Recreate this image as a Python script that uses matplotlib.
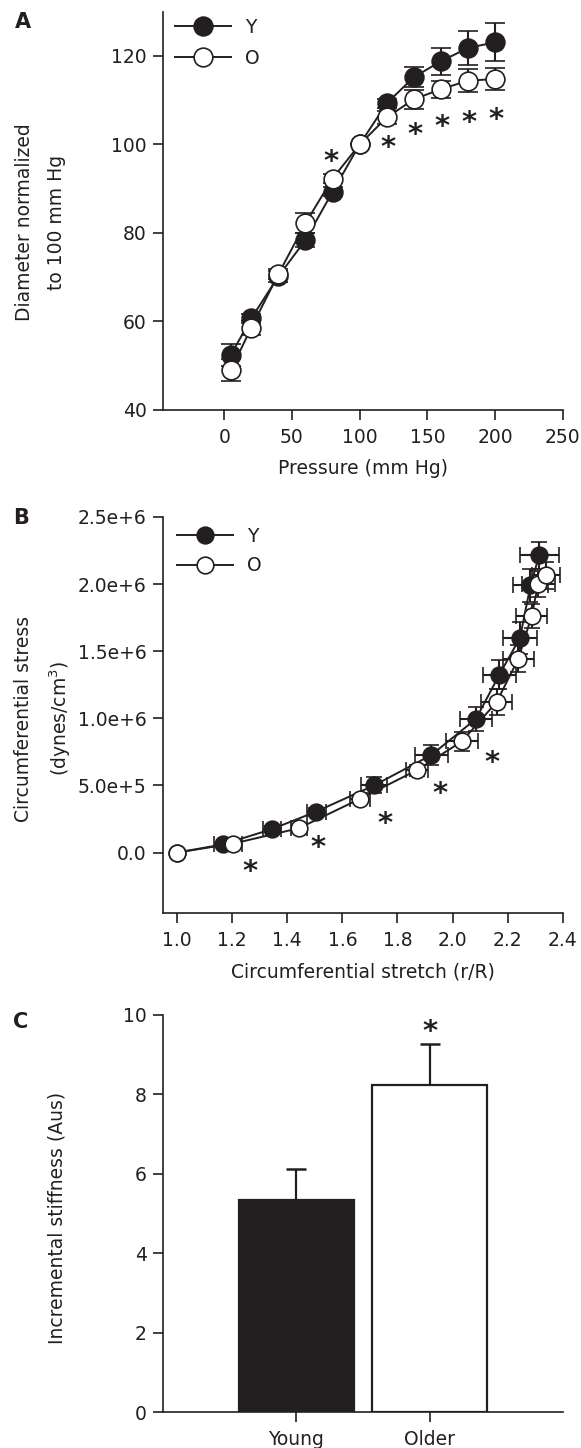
import matplotlib
matplotlib.use("Agg")
import matplotlib.pyplot as plt

plt.rcParams.update({
    "font.family": ["DejaVu Sans"],
    "font.size": 13.5,
    "text.color": "#231f20",
    "axes.labelcolor": "#231f20",
    "xtick.color": "#231f20",
    "ytick.color": "#231f20",
    "axes.edgecolor": "#231f20",
    "axes.linewidth": 1.2,
    "xtick.major.size": 7,
    "ytick.major.size": 7,
    "xtick.major.width": 1.2,
    "ytick.major.width": 1.2,
    "xtick.major.pad": 6,
    "ytick.major.pad": 5,
    "mathtext.default": "regular",
})

INK = "#231f20"

# Panel A: diameter vs pressure
pressure = [5, 20, 40, 60, 80, 100, 120, 140, 160, 180, 200]
diam_young = [52.5, 60.7, 70.2, 78.4, 89.3, 100, 109.3, 115.2, 118.8, 121.8, 123.1]
diam_young_err = [2.5, 1.0, 1.2, 1.5, 1.0, 0, 1.0, 2.2, 3.1, 3.9, 4.3]
diam_older = [49.1, 58.6, 70.7, 82.2, 92.3, 100, 106.1, 110.2, 112.5, 114.4, 114.8]
diam_older_err = [2.5, 1.6, 1.2, 2.3, 1.0, 0, 1.5, 2.2, 1.9, 2.6, 2.5]
star_a_p = [79, 121, 141, 161, 181, 201]
star_a_y = [97.3, 100.4, 103.4, 105.3, 106.1, 106.8]

# Panel B: stress vs stretch
stretch_young = [1.0, 1.165, 1.345, 1.505, 1.715, 1.922, 2.085, 2.17, 2.245, 2.283, 2.315]
stretch_young_err = [0, 0.03, 0.033, 0.035, 0.048, 0.06, 0.057, 0.06, 0.063, 0.065, 0.07]
stress_young = [0, 0.06e6, 0.175e6, 0.305e6, 0.50e6, 0.725e6, 0.995e6, 1.325e6, 1.60e6, 1.99e6, 2.215e6]
stress_young_err = [0, 0.02e6, 0.02e6, 0.03e6, 0.06e6, 0.075e6, 0.09e6, 0.11e6, 0.12e6, 0.12e6, 0.1e6]
stretch_older = [1.0, 1.204, 1.442, 1.664, 1.870, 2.034, 2.16, 2.239, 2.287, 2.311, 2.339]
stretch_older_err = [0, 0.03, 0.03, 0.035, 0.04, 0.057, 0.055, 0.055, 0.055, 0.06, 0.052]
stress_older = [0, 0.067e6, 0.181e6, 0.40e6, 0.613e6, 0.828e6, 1.121e6, 1.443e6, 1.761e6, 2.0e6, 2.066e6]
stress_older_err = [0, 0.02e6, 0.025e6, 0.03e6, 0.04e6, 0.07e6, 0.095e6, 0.1e6, 0.09e6, 0.1e6, 0.1e6]
star_b_x = [1.265, 1.513, 1.755, 1.954, 2.142]
star_b_y = [-0.1e6, 0.079e6, 0.253e6, 0.477e6, 0.712e6]

# Panel C: incremental stiffness
groups = ["Young", "Older"]
stiffness = [5.34, 8.22]
stiffness_err = [0.78, 1.04]


def style_axes(ax):
    for side in ["top", "right"]:
        ax.spines[side].set_visible(False)
    ax.tick_params(direction="out")


def add_star(ax, x, y):
    # asterisk glyph sits high in its box, nudge it down to centre the ink
    ax.annotate("*", (x, y), xytext=(0, -4), textcoords="offset points",
                ha="center", va="center", fontsize=21, fontweight="bold", color=INK)


fig = plt.figure(figsize=(5.81, 14.48), dpi=100)
left, width = 0.2811, 0.6874

# ---- A ----
ax = fig.add_axes([left, 0.7169, width, 0.2750])
style_axes(ax)
ey = ax.errorbar(pressure, diam_young, yerr=diam_young_err, fmt="-o", color=INK,
                 mfc=INK, mec=INK, ms=13.5, mew=1.2, lw=1.4, elinewidth=1.5,
                 capsize=7, capthick=1.8, label="Y", zorder=3)
eo = ax.errorbar(pressure, diam_older, yerr=diam_older_err, fmt="-o", color=INK,
                 mfc="white", mec=INK, ms=13.5, mew=1.2, lw=1.4, elinewidth=1.5,
                 capsize=7, capthick=1.8, label="O", zorder=4)
for p, y in zip(star_a_p, star_a_y):
    add_star(ax, p, y)
ax.set_xlim(-45, 250)
ax.set_ylim(40, 130)
ax.set_xticks([0, 50, 100, 150, 200, 250])
ax.set_yticks([40, 60, 80, 100, 120])
ax.set_xlabel("Pressure (mm Hg)", labelpad=9)
ax.set_ylabel("Diameter normalized\nto 100 mm Hg", ha="center", va="center",
              linespacing=1.9)
ax.yaxis.set_label_coords(-0.307, 0.472)
ax.legend(handles=[ey.lines[0], eo.lines[0]], labels=["Y", "O"], loc="upper left",
          bbox_to_anchor=(-0.003, 1.018), frameon=False, handlelength=3.0,
          handletextpad=0.7, labelspacing=0.65, borderpad=0.2)
fig.text(0.040, 0.985, "A", fontsize=15, fontweight="bold", ha="center", va="center")

# ---- B ----
ax = fig.add_axes([left, 0.3695, width, 0.2735])
style_axes(ax)
ey = ax.errorbar(stretch_young, stress_young, xerr=stretch_young_err,
                 yerr=stress_young_err, fmt="-o", color=INK, mfc=INK, mec=INK,
                 ms=12, mew=1.2, lw=1.4, elinewidth=1.5, capsize=6, capthick=1.8,
                 zorder=3)
eo = ax.errorbar(stretch_older, stress_older, xerr=stretch_older_err,
                 yerr=stress_older_err, fmt="-o", color=INK, mfc="white", mec=INK,
                 ms=12, mew=1.2, lw=1.4, elinewidth=1.5, capsize=6, capthick=1.8,
                 zorder=4)
for x, y in zip(star_b_x, star_b_y):
    add_star(ax, x, y)
ax.set_xlim(0.95, 2.4)
ax.set_ylim(-0.45e6, 2.5e6)
xt = [1.0, 1.2, 1.4, 1.6, 1.8, 2.0, 2.2, 2.4]
ax.set_xticks(xt)
ax.set_xticklabels([f"{v:.1f}" for v in xt])
ax.set_yticks([0, 0.5e6, 1.0e6, 1.5e6, 2.0e6, 2.5e6])
ax.set_yticklabels(["0.0", "5.0e+5", "1.0e+6", "1.5e+6", "2.0e+6", "2.5e+6"])
ax.set_xlabel("Circumferential stretch (r/R)", labelpad=9)
ax.set_ylabel("Circumferential stress\n(dynes/cm$^3$)", ha="center", va="center",
              linespacing=1.7)
ax.yaxis.set_label_coords(-0.300, 0.49)
ax.legend(handles=[ey.lines[0], eo.lines[0]], labels=["Y", "O"], loc="upper left",
          bbox_to_anchor=(0.002, 1.008), frameon=False, handlelength=3.0,
          handletextpad=0.7, labelspacing=0.55, borderpad=0.2)
fig.text(0.036, 0.642, "B", fontsize=15, fontweight="bold", ha="center", va="center")

# ---- C ----
ax = fig.add_axes([left, 0.02466, width, 0.2746])
style_axes(ax)
xpos = list(range(len(groups)))
ax.bar(xpos, stiffness, width=0.87, color=[INK, "white"], edgecolor=INK,
       linewidth=1.6, zorder=2)
ax.errorbar(xpos, stiffness, yerr=[[0, 0], stiffness_err], fmt="none", ecolor=INK,
            elinewidth=1.6, capsize=7, capthick=1.8, zorder=1)
add_star(ax, xpos[1], stiffness[1] + stiffness_err[1] + 0.45)
ax.set_xlim(-1, 2)
ax.set_ylim(0, 10)
ax.set_xticks(xpos)
ax.set_xticklabels(groups)
ax.set_yticks([0, 2, 4, 6, 8, 10])
ax.set_ylabel("Incremental stiffness (Aus)", ha="center", va="center")
ax.yaxis.set_label_coords(-0.265, 0.489)
fig.text(0.036, 0.294, "C", fontsize=15, fontweight="bold", ha="center", va="center")

fig.savefig("out.png", dpi=100)
